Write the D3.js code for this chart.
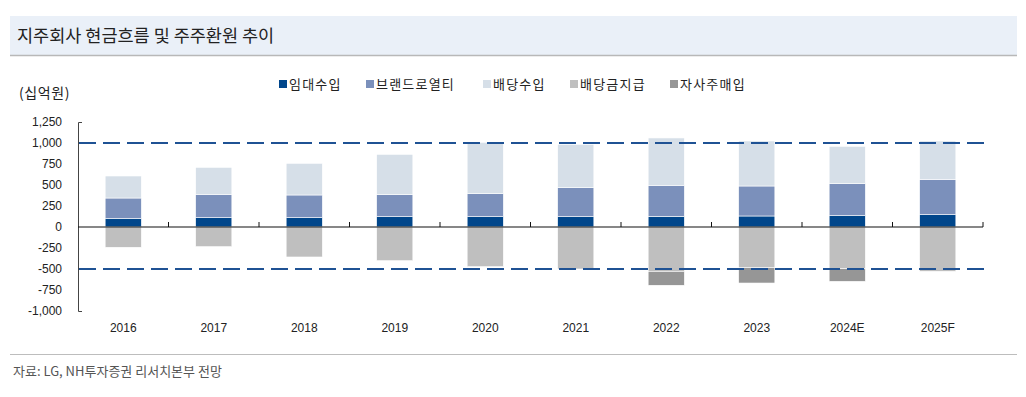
<!DOCTYPE html>
<html>
<head>
<meta charset="utf-8">
<script src="https://cdn.jsdelivr.net/npm/d3@7"></script>
<style>
  body { margin: 0; background: #fff; }
  svg { display: block; }
</style>
</head>
<body>
<svg width="1026" height="397"></svg>
<script>
// 데이터 (십억원)
const years = ["2016", "2017", "2018", "2019", "2020", "2021", "2022", "2023", "2024E", "2025F"];
const rent = [100, 111, 111, 123, 123, 123, 127, 131, 135, 147];           // 임대수입
const brand = [245, 278, 270, 262, 274, 345, 369, 357, 381, 420];         // 브랜드로열티
const divIncome = [262, 321, 377, 480, 611, 516, 564, 536, 444, 457];     // 배당수입
const divPaid = [-242, -234, -357, -401, -472, -500, -528, -484, -496, -528]; // 배당금지급
const buyback = [0, 0, 0, 0, 0, 0, -166, -183, -151, 0];                   // 자사주매입
const seriesNames = ["임대수입", "브랜드로열티", "배당수입", "배당금지급", "자사주매입"];
const yTicks = [1250, 1000, 750, 500, 250, 0, -250, -500, -750, -1000];
const refLines = [1000, -500];

const colors = ["#00468b", "#7b90bb", "#d6dfe8", "#bfbfbf", "#969696"];
const svg = d3.select("svg");
const latin = "'Liberation Sans', Arial, sans-serif";
const kor = "'Noto Sans CJK KR', 'Noto Sans', sans-serif";

// 제목 영역
svg.append("rect").attr("x", 10).attr("y", 16).attr("width", 1007).attr("height", 39).attr("fill", "#eaf0f8");
svg.append("line").attr("x1", 10).attr("x2", 1017).attr("y1", 55.5).attr("y2", 55.5)
  .attr("stroke", "#b8b8b8").attr("stroke-width", 1.5);
svg.append("text").attr("x", 17).attr("y", 42).text("지주회사 현금흐름 및 주주환원 추이")
  .style("font-family", kor).style("font-size", "17.5px").style("fill", "#222");

// 스케일
const x = d3.scaleBand().domain(years).range([78, 983]).paddingInner(0.6).paddingOuter(0.3);
const y = d3.scaleLinear().domain([-1000, 1250]).range([311, 122]);

const rows = years.map((yr, i) => ({
  year: yr,
  "임대수입": rent[i], "브랜드로열티": brand[i], "배당수입": divIncome[i],
  "배당금지급": divPaid[i], "자사주매입": buyback[i]
}));
const stacked = d3.stack().keys(seriesNames).offset(d3.stackOffsetDiverging)(rows);

svg.append("g").selectAll("g")
  .data(stacked)
  .join("g")
  .attr("fill", (d, i) => colors[i])
  .selectAll("rect")
  .data(d => d.filter(p => p[1] - p[0] !== 0))
  .join("rect")
  .attr("x", d => x(d.data.year))
  .attr("width", x.bandwidth())
  .attr("y", d => y(Math.max(d[0], d[1])))
  .attr("height", d => Math.abs(y(d[0]) - y(d[1])))
  .attr("stroke", "#fff")
  .attr("stroke-width", 0.6);

// y축
const fmt = d3.format(",");
const yAxis = svg.append("g").attr("transform", "translate(78,0)")
  .call(d3.axisLeft(y).tickValues(yTicks).tickFormat(d => fmt(d).replace("−", "-"))
    .tickSizeInner(0).tickSizeOuter(-4).tickPadding(16));
yAxis.select(".domain").attr("stroke", "#444");
yAxis.selectAll("text").style("font-family", latin).style("font-size", "12px").style("fill", "#222");

// x축 (0선)
svg.append("line").attr("x1", 78).attr("x2", 983).attr("y1", y(0)).attr("y2", y(0))
  .attr("stroke", "#111").attr("stroke-width", 1.2);
const bounds = years.map(yr => x(yr) - x.step() * x.paddingInner() / 2).slice(1).concat([983]);
svg.append("g").selectAll("line").data(bounds).join("line")
  .attr("x1", d => d).attr("x2", d => d)
  .attr("y1", y(0)).attr("y2", y(0) - 5)
  .attr("stroke", "#111").attr("stroke-width", 1);

svg.append("g").selectAll("text").data(years).join("text")
  .attr("x", d => x(d) + x.bandwidth() / 2)
  .attr("y", y(-1000) + 21)
  .attr("text-anchor", "middle")
  .text(d => d)
  .style("font-family", latin).style("font-size", "12px").style("fill", "#222");

// 점선 기준선
svg.append("g").selectAll("line").data(refLines).join("line")
  .attr("x1", 79).attr("x2", 985)
  .attr("y1", d => y(d)).attr("y2", d => y(d))
  .attr("stroke", "#1f5294").attr("stroke-width", 2)
  .attr("stroke-dasharray", "17,7");

// 단위
svg.append("text").attr("x", 19).attr("y", 98).text("(십억원)")
  .style("font-family", kor).style("font-size", "14px").style("letter-spacing", "0.6px").style("fill", "#222");

// 범례
const legendX = [279, 366, 483, 570, 670];
const legend = svg.append("g").selectAll("g").data(seriesNames).join("g")
  .attr("transform", (d, i) => `translate(${legendX[i]},84)`);
legend.append("rect").attr("x", 0).attr("y", -4).attr("width", 8).attr("height", 8)
  .attr("fill", (d, i) => colors[i]);
legend.append("text").attr("x", 10).attr("y", 5).text(d => d)
  .style("font-family", kor).style("font-size", "13px").style("letter-spacing", "1.2px").style("fill", "#222");

// 출처
svg.append("line").attr("x1", 10).attr("x2", 1017).attr("y1", 354.5).attr("y2", 354.5)
  .attr("stroke", "#bdbdbd").attr("stroke-width", 1);
svg.append("text").attr("x", 13).attr("y", 376).text("자료: LG, NH투자증권 리서치본부 전망")
  .style("font-family", kor).style("font-size", "13px").style("fill", "#555");
</script>
</body>
</html>
